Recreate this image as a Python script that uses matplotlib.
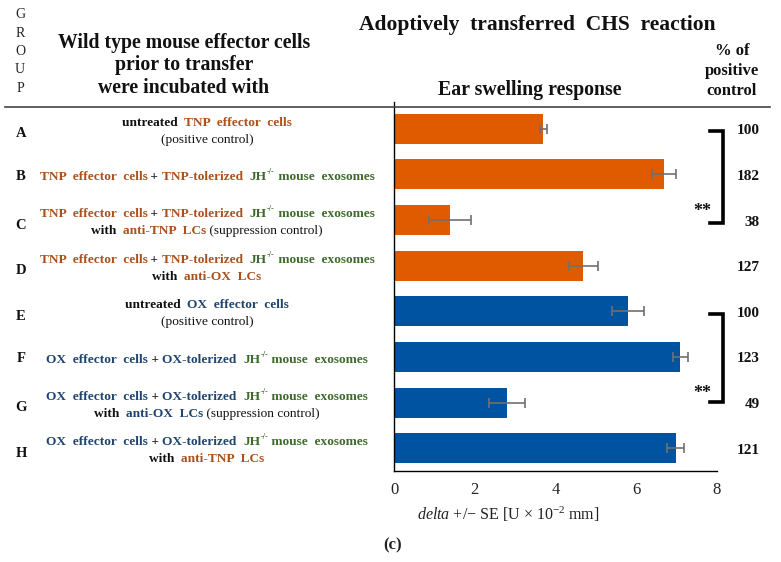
import matplotlib
matplotlib.use("Agg")
import matplotlib.pyplot as plt
from matplotlib.lines import Line2D

# ---------------- data ----------------
groups = ["A", "B", "C", "D", "E", "F", "G", "H"]
values = [3.70, 6.69, 1.39, 4.69, 5.80, 7.09, 2.80, 6.98]
errors = [0.08, 0.30, 0.52, 0.36, 0.39, 0.18, 0.45, 0.21]
percent = ["100", "182", "38", "127", "100", "123", "49", "121"]
xticks = [0, 2, 4, 6, 8]

ORANGE = "#E05A00"
BLUE = "#0053A0"
bar_colors = [ORANGE] * 4 + [BLUE] * 4

C_TNP = "#A9521F"
C_OX = "#1F4470"
C_JH = "#3E6B2C"
C_K = "#111111"

# row descriptions: list of lines, each line list of (text, color, weight, superscript)
def tol(eff, col):
    return [(f"{eff}  effector  cells", col, "bold", False),
            (" + ", C_K, "bold", False),
            (f"{eff}-tolerized  ", col, "bold", False),
            ("JH", C_JH, "bold", False),
            ("-/-", C_JH, "bold", True),
            (" mouse  exosomes", C_JH, "bold", False)]

rows = [
    [[("untreated  ", C_K, "bold", False), ("TNP  effector  cells", C_TNP, "bold", False)],
     [("(positive control)", C_K, "normal", False)]],
    [tol("TNP", C_TNP)],
    [tol("TNP", C_TNP),
     [("with  ", C_K, "bold", False), ("anti-TNP  LCs", C_TNP, "bold", False),
      (" (suppression control)", C_K, "normal", False)]],
    [tol("TNP", C_TNP),
     [("with  ", C_K, "bold", False), ("anti-OX  LCs", C_TNP, "bold", False)]],
    [[("untreated  ", C_K, "bold", False), ("OX  effector  cells", C_OX, "bold", False)],
     [("(positive control)", C_K, "normal", False)]],
    [tol("OX", C_OX)],
    [tol("OX", C_OX),
     [("with  ", C_K, "bold", False), ("anti-OX  LCs", C_OX, "bold", False),
      (" (suppression control)", C_K, "normal", False)]],
    [tol("OX", C_OX),
     [("with  ", C_K, "bold", False), ("anti-TNP  LCs", C_TNP, "bold", False)]],
]

W, H = 781, 562
SERIF = ["Liberation Serif", "DejaVu Serif"]
plt.rcParams["font.family"] = SERIF
plt.rcParams["mathtext.fontset"] = "custom"
plt.rcParams["mathtext.rm"] = "Liberation Serif"
plt.rcParams["mathtext.it"] = "Liberation Serif:italic"
plt.rcParams["mathtext.bf"] = "Liberation Serif:bold"

fig = plt.figure(figsize=(W / 100, H / 100), dpi=100)

def fx(x):
    return x / W

def fy(y):
    return 1 - y / H

# ---------------- main axes ----------------
ax_left, ax_right, ax_top, ax_bot = 394, 717, 106, 471
ax = fig.add_axes([fx(ax_left), fy(ax_bot), fx(ax_right - ax_left), (ax_bot - ax_top) / H])
ypos = list(range(len(groups)))
ax.barh(ypos, values, height=0.66, color=bar_colors, zorder=2)
ax.errorbar(values, ypos, xerr=errors, fmt="none", ecolor="#707070",
            elinewidth=1.2, capsize=3.5, capthick=1.2, zorder=3)
ax.set_xlim(0, 8)
ax.set_ylim(7.5, -0.5)
ax.set_xticks(xticks)
ax.set_xticklabels([str(t) for t in xticks], fontsize=12, color="#222222")
ax.tick_params(axis="x", length=0, pad=8)
ax.set_yticks([])
for s in ["top", "right"]:
    ax.spines[s].set_visible(False)
ax.spines["left"].set_linewidth(1.0)
ax.spines["bottom"].set_linewidth(1.0)
ax.spines["left"].set_bounds(-0.58, 7.5)

# top separator line across figure
fig.add_artist(Line2D([fx(5), fx(770)], [fy(107), fy(107)], color="#444444", lw=1.2))

# x label
fig.text(fx(508), fy(514), r"$\it{delta}$ +/− SE [U × 10$^{-2}$ mm]", ha="center", va="center",
         fontsize=11.5, color="#222222")
fig.text(fx(393), fy(545), "(c)", ha="center", va="center", fontsize=12, fontweight="bold",
         color="#222222")

# ---------------- headers ----------------
fig.text(fx(537), fy(25), "Adoptively  transferred  CHS  reaction", ha="center", va="center",
         fontsize=15.5, fontweight="bold", color="#111111")
for i, ch in enumerate("GROUP"):
    fig.text(fx(20), fy(15 + i * 18.3), ch, ha="center", va="center", fontsize=10, color="#222222")
for txt, y in [("Wild type mouse effector cells", 43), ("prior to transfer", 65),
               ("were incubated with", 88)]:
    fig.text(fx(184), fy(y), txt, ha="center", va="center", fontsize=14.2, fontweight="bold",
             color="#111111")
fig.text(fx(530), fy(90), "Ear swelling response", ha="center", va="center", fontsize=14.3,
         fontweight="bold", color="#111111")
for txt, y in [("% of", 51), ("positive", 71), ("control", 91)]:
    fig.text(fx(732), fy(y), txt, ha="center", va="center", fontsize=12, fontweight="bold",
             color="#111111")

# ---------------- percent column ----------------
for i, p in enumerate(percent):
    ydata = ax.transData.transform((0, i))[1]
    fig.text(fx(760), ydata / fig.dpi / fig.get_figheight() - 2 / H, p, ha="right", va="center",
             fontsize=11, fontweight="bold", color="#111111")

# ---------------- brackets ----------------
def bracket(y0, y1, star_y):
    xs = [fx(710), fx(722.5), fx(722.5), fx(710)]
    ys = [fy(y0), fy(y0), fy(y1), fy(y1)]
    fig.add_artist(Line2D(xs, ys, color="black", lw=2.6, solid_joinstyle="miter"))
    fig.text(fx(702), fy(star_y), "**", ha="center", va="center", fontsize=13,
             fontweight="bold", color="#111111")

bracket(131, 223, 212)
bracket(314, 402, 394)

# ---------------- rich row labels ----------------
fig.canvas.draw()
renderer = fig.canvas.get_renderer()
FS = 9.6

def rich_line(xc, ybase, segs):
    objs = []
    for t, c, w, sup in segs:
        o = fig.text(0, 0, t, fontsize=FS * (0.62 if sup else 1.0), color=c, fontweight=w,
                     va="baseline", ha="left")
        objs.append((o, sup))
    widths = []
    for o, sup in objs:
        bb = o.get_window_extent(renderer)
        widths.append(bb.width)
    total = sum(widths)
    x = xc - total / 2
    for (o, sup), wdt in zip(objs, widths):
        o.set_position((fx(x), fy(ybase - (6 if sup else 0))))
        x += wdt

row_centers = []
for i in range(len(groups)):
    ydata = ax.transData.transform((0, i))[1]
    row_centers.append(H - ydata)

for i, (g, lines) in enumerate(zip(groups, rows)):
    yc = row_centers[i]
    if len(lines) == 1:
        fig.text(fx(21), fy(yc + 2), g, ha="center", va="center", fontsize=10.5,
                 fontweight="bold", color="#111111")
        rich_line(207, yc + 6, lines[0])
    else:
        fig.text(fx(21), fy(yc + 5), g, ha="center", va="center", fontsize=10.5,
                 fontweight="bold", color="#111111")
        rich_line(207, yc - 3, lines[0])
        rich_line(207, yc + 14, lines[1])

fig.savefig("out.png", dpi=100)
